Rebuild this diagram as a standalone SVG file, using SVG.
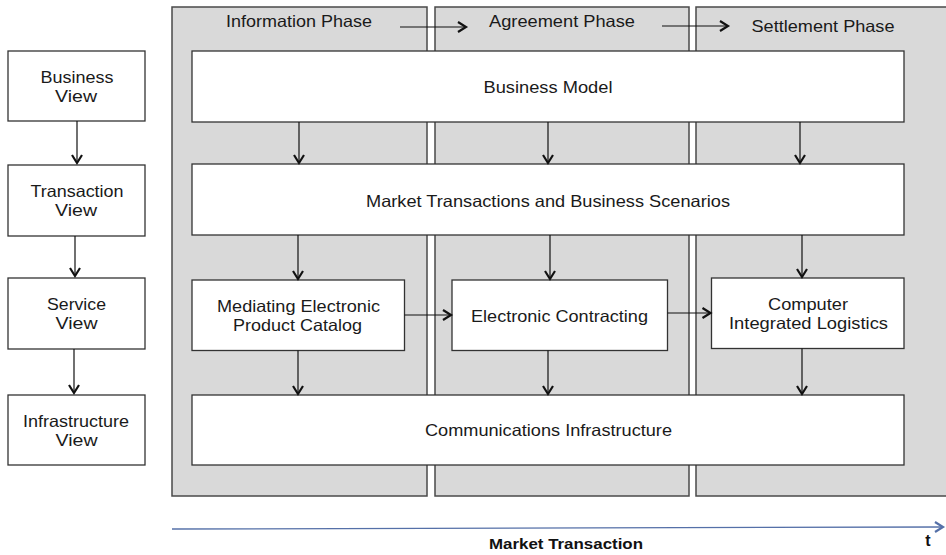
<svg xmlns="http://www.w3.org/2000/svg" width="946" height="555" viewBox="0 0 946 555">
<style>
.panel{fill:#d9d9d9;stroke:#4a4a4a;stroke-width:1.5}
.box{fill:#fff;stroke:#333;stroke-width:1.3}
.t{font-family:"Liberation Sans",Arial,sans-serif;font-size:16.5px;fill:#1a1a1a;text-anchor:middle}
.c{stroke:#111;stroke-width:1.2;fill:none;marker-end:url(#ah)}
</style>
<defs>
<marker id="ah" markerWidth="14" markerHeight="14" refX="11" refY="6" orient="auto" markerUnits="userSpaceOnUse">
<polyline points="3,1 11,6 3,11" fill="none" stroke="#111" stroke-width="2.2"/>
</marker>
<marker id="ahb" markerWidth="14" markerHeight="14" refX="11" refY="6" orient="auto" markerUnits="userSpaceOnUse">
<polyline points="3,1 11,6 3,11" fill="none" stroke="#5570a8" stroke-width="2.2"/>
</marker>
</defs>
<g id="panels">
<g id="info-phase"><rect class="panel" x="172" y="7" width="255" height="489"/><text class="t" x="299" y="27" textLength="146" lengthAdjust="spacingAndGlyphs">Information Phase</text></g>
<g id="agreement-phase"><rect class="panel" x="435" y="7" width="254" height="489"/><text class="t" x="562" y="27" textLength="146" lengthAdjust="spacingAndGlyphs">Agreement Phase</text></g>
<g id="settlement-phase"><rect class="panel" x="696" y="7" width="260" height="489"/><text class="t" x="823" y="31.5" textLength="143" lengthAdjust="spacingAndGlyphs">Settlement Phase</text></g>
</g>
<g id="business-view"><rect class="box" x="8" y="51" width="137" height="70"/><text class="t" x="77" y="82.5" textLength="73" lengthAdjust="spacingAndGlyphs">Business</text><text class="t" x="76" y="101.5" textLength="42" lengthAdjust="spacingAndGlyphs">View</text></g>
<g id="transaction-view"><rect class="box" x="8" y="165" width="137" height="71"/><text class="t" x="77" y="196.5" textLength="93" lengthAdjust="spacingAndGlyphs">Transaction</text><text class="t" x="76" y="215.5" textLength="42" lengthAdjust="spacingAndGlyphs">View</text></g>
<g id="service-view"><rect class="box" x="8" y="278" width="137" height="71"/><text class="t" x="76.5" y="309.5" textLength="59" lengthAdjust="spacingAndGlyphs">Service</text><text class="t" x="76.5" y="328.5" textLength="42" lengthAdjust="spacingAndGlyphs">View</text></g>
<g id="infrastructure-view"><rect class="box" x="8" y="395" width="137" height="70"/><text class="t" x="76" y="426.5" textLength="106" lengthAdjust="spacingAndGlyphs">Infrastructure</text><text class="t" x="76.5" y="445.5" textLength="42" lengthAdjust="spacingAndGlyphs">View</text></g>
<g id="business-model"><rect class="box" x="192" y="51" width="712" height="71"/><text class="t" x="548" y="93" textLength="129" lengthAdjust="spacingAndGlyphs">Business Model</text></g>
<g id="market-transactions"><rect class="box" x="192" y="164" width="712" height="71"/><text class="t" x="548" y="206.5" textLength="364" lengthAdjust="spacingAndGlyphs">Market Transactions and Business Scenarios</text></g>
<g id="mepc"><rect class="box" x="192" y="280" width="212.5" height="70.5"/><text class="t" x="298.5" y="311.5" textLength="163" lengthAdjust="spacingAndGlyphs">Mediating Electronic</text><text class="t" x="297.5" y="331" textLength="129" lengthAdjust="spacingAndGlyphs">Product Catalog</text></g>
<g id="electronic-contracting"><rect class="box" x="452" y="280" width="215.5" height="70.5"/><text class="t" x="559.5" y="321.5" textLength="177" lengthAdjust="spacingAndGlyphs">Electronic Contracting</text></g>
<g id="cil"><rect class="box" x="711.5" y="278" width="192.5" height="70.5"/><text class="t" x="808" y="310" textLength="80" lengthAdjust="spacingAndGlyphs">Computer</text><text class="t" x="808.5" y="329" textLength="159" lengthAdjust="spacingAndGlyphs">Integrated Logistics</text></g>
<g id="communications"><rect class="box" x="192" y="395" width="712" height="70"/><text class="t" x="548.5" y="436" textLength="247" lengthAdjust="spacingAndGlyphs">Communications Infrastructure</text></g>
<g id="connectors">
<line class="c" x1="77" y1="121" x2="77" y2="163"/>
<line class="c" x1="75" y1="236" x2="75" y2="276"/>
<line class="c" x1="74" y1="349" x2="74" y2="393"/>
<line class="c" x1="400" y1="27" x2="466" y2="27"/>
<line class="c" x1="662" y1="26" x2="728" y2="26"/>
<line class="c" x1="299" y1="122" x2="299" y2="163"/>
<line class="c" x1="548" y1="122" x2="548" y2="163"/>
<line class="c" x1="800" y1="122" x2="800" y2="163"/>
<line class="c" x1="298" y1="235" x2="298" y2="279"/>
<line class="c" x1="550" y1="235" x2="550" y2="279"/>
<line class="c" x1="802" y1="235" x2="802" y2="277"/>
<line class="c" x1="298" y1="350.5" x2="298" y2="394"/>
<line class="c" x1="548" y1="350.5" x2="548" y2="394"/>
<line class="c" x1="802" y1="348.5" x2="802" y2="394"/>
<line class="c" x1="404.5" y1="315" x2="451" y2="315"/>
<line class="c" x1="667.5" y1="313" x2="710.5" y2="313"/>
<line x1="172" y1="529" x2="943" y2="527" stroke="#5570a8" stroke-width="1.3" marker-end="url(#ahb)"/>
</g>
<text x="566" y="549" font-family="Liberation Sans,Arial,sans-serif" font-size="15" font-weight="bold" text-anchor="middle" fill="#111" textLength="154" lengthAdjust="spacingAndGlyphs">Market Transaction</text>
<text x="928" y="546" font-family="Liberation Sans,Arial,sans-serif" font-size="16" font-weight="bold" text-anchor="middle" fill="#111">t</text>
</svg>
